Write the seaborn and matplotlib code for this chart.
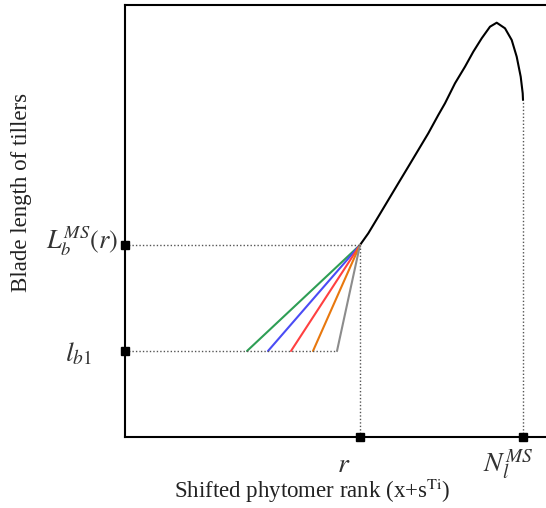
import matplotlib
matplotlib.use("Agg")
import matplotlib.pyplot as plt
import seaborn as sns
import pandas as pd

# ---- data (abstract units) ----
curve_x = [23.5, 24.33, 25.33, 26.33, 27.33, 28.33, 29.33, 30.33, 31.33, 32.0, 33.0, 34.0,
           34.83, 35.67, 36.5, 37.17, 38.0, 38.67, 39.17, 39.57, 39.77, 39.8]
curve_y = [19.2, 20.37, 22.03, 23.7, 25.37, 27.03, 28.7, 30.37, 32.2, 33.37, 35.37, 37.03,
           38.53, 39.87, 41.03, 41.43, 40.87, 39.7, 38.03, 36.03, 34.37, 33.7]

r_x = 23.5
n_x = 39.8
L_y = 19.2
l_y = 8.6
fan_ends = [12.2, 14.3, 16.6, 18.8, 21.2]
fan_names = ["green", "blue", "red", "orange", "gray"]
fan_colors = ["#2e9e55", "#4a4cf5", "#ff4040", "#e8780e", "#8c8c8c"]

sns.set_theme(style="white")
plt.rcParams["font.family"] = ["Liberation Serif", "DejaVu Serif"]
plt.rcParams["mathtext.fontset"] = "stix"

W, H = 546, 508
fig = plt.figure(figsize=(W / 100, H / 100), dpi=100)
left, bottom, top = 125, 437, 5
units_px = 10.0
xmax = 45
ax = fig.add_axes([left / W, (H - bottom) / H, xmax * units_px / W, (bottom - top) / H])
ax.set_xlim(0, xmax)
ax.set_ylim(0, (bottom - top) / units_px)

# main curve
cdf = pd.DataFrame({"x": curve_x, "y": curve_y})
sns.lineplot(data=cdf, x="x", y="y", sort=False, color="black", lw=1.5, ax=ax)

# fan lines
rows = []
for name, xe in zip(fan_names, fan_ends):
    rows.append({"x": r_x, "y": L_y, "s": name})
    rows.append({"x": xe, "y": l_y, "s": name})
fdf = pd.DataFrame(rows)
sns.lineplot(data=fdf, x="x", y="y", hue="s", palette=dict(zip(fan_names, fan_colors)),
             sort=False, lw=1.5, ax=ax, legend=False)

# dotted guides
dot = dict(color="#555555", lw=1.0, ls=(0, (1, 1.5)))
ax.plot([0, r_x], [L_y, L_y], **dot)
ax.plot([0, fan_ends[-1]], [l_y, l_y], **dot)
ax.plot([r_x, r_x], [0, L_y], **dot)
ax.plot([n_x, n_x], [0, curve_y[-1]], **dot)

# markers on axes
ax.plot([0, 0], [L_y, l_y], "s", color="black", ms=5.5, clip_on=False, zorder=5)
ax.plot([r_x, n_x], [0, 0], "s", color="black", ms=5.5, clip_on=False, zorder=5)

ax.set_xticks([])
ax.set_yticks([])
for s in ["left", "bottom", "top"]:
    ax.spines[s].set_visible(True)
    ax.spines[s].set_color("black")
    ax.spines[s].set_linewidth(1.5)
ax.spines["right"].set_visible(False)
ax.set_xlabel("")
ax.set_ylabel("")

# tick-like labels
ax.text(-0.7, L_y + 0.4, r"$L_b^{MS}(r)$", ha="right", va="center", fontsize=19, color="#333333")
ax.text(-3.3, l_y - 0.3, r"$l_{b1}$", ha="right", va="center", fontsize=20, color="#333333")
ax.text(r_x - 1.6, -2.8, r"$r$", ha="center", va="center", fontsize=20, color="#333333")
ax.text(n_x - 1.5, -2.8, r"$N_l^{MS}$", ha="center", va="center", fontsize=20, color="#333333")

fig.text(22 / W, 1 - 192 / H, "Blade length of tillers", rotation=90, ha="center", va="center",
         fontsize=16.5, color="#222222")
fig.text(312 / W, 1 - 491 / H, r"Shifted phytomer rank (x+s$^{\mathrm{Ti}}$)", ha="center", va="center",
         fontsize=16.5, color="#222222")

fig.savefig("out.png", dpi=100)
